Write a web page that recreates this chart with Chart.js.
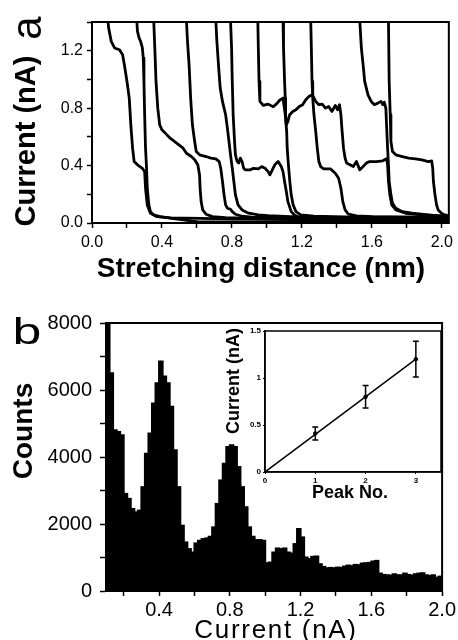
<!DOCTYPE html>
<html><head><meta charset="utf-8">
<script src="https://cdn.jsdelivr.net/npm/chart.js@4.4.1/dist/chart.umd.min.js"></script>
<style>
html,body{margin:0;padding:0;background:#fff;}
body{width:458px;height:640px;position:relative;overflow:hidden;font-family:"Liberation Sans",Arial,sans-serif;color:#000;}
canvas{position:absolute;display:block;}
.t{position:absolute;white-space:nowrap;line-height:1;transform-origin:center center;}
</style></head><body>
<canvas id="chartA" width="458" height="300" style="left:0;top:0;width:458px;height:300px"></canvas>
<canvas id="chartB" width="458" height="340" style="left:0;top:300px;width:458px;height:340px"></canvas>
<canvas id="chartInset" width="238" height="190" style="left:220px;top:320px;width:238px;height:190px"></canvas>
<div class="t" style="left:27px;top:28px;font-size:42px;transform:translate(-50%,-50%) rotate(-90deg)">a</div>
<div class="t" style="left:25px;top:141px;font-size:29px;font-weight:bold;transform:translate(-50%,-50%) rotate(-90deg)">Current (nA)</div>
<div class="t" style="left:261px;top:268px;font-size:28px;font-weight:bold;transform:translate(-50%,-50%)">Stretching distance (nm)</div>
<div class="t" style="left:27px;top:331px;font-size:37px;transform:translate(-50%,-50%) scaleX(1.4)">b</div>
<div class="t" style="left:23px;top:431px;font-size:28px;font-weight:bold;transform:translate(-50%,-50%) rotate(-90deg)">Counts</div>
<div class="t" style="left:276px;top:629px;font-size:26px;letter-spacing:1.7px;transform:translate(-50%,-50%)">Current (nA)</div>
<div class="t" style="left:233px;top:381px;font-size:18px;font-weight:bold;transform:translate(-50%,-50%) rotate(-90deg)">Current (nA)</div>
<div class="t" style="left:350px;top:492px;font-size:18px;font-weight:bold;transform:translate(-50%,-50%)">Peak No.</div>
<script>
// ---------- Panel a: current traces vs stretching distance ----------
const trace1X = [0.088,0.091,0.095,0.110,0.129,0.157,0.175,0.185,0.200,0.213,0.222,0.232,0.241,0.260,0.288,0.301,0.306,0.316,0.334,0.372,0.45,0.7,1.0,1.4,1.8,2.04];
const trace1Y = [1.45,1.41,1.359,1.265,1.219,1.207,1.172,1.103,0.986,0.870,0.684,0.521,0.428,0.405,0.381,0.358,0.242,0.126,0.068,0.044,0.035,0.03,0.025,0.02,0.02,0.018];
const trace2X = [0.254,0.256,0.260,0.269,0.278,0.288,0.293,0.297,0.301,0.306,0.312,0.316,0.325,0.334,0.353,0.390,0.465,0.6,1.0,1.5,2.04];
const trace2Y = [1.45,1.41,1.335,1.289,1.265,1.219,1.149,0.986,0.754,0.521,0.381,0.242,0.126,0.079,0.056,0.044,0.03,0.01,0.006,0.005,0.005];
const trace3X = [0.351,0.353,0.359,0.366,0.376,0.387,0.400,0.419,0.447,0.484,0.521,0.540,0.568,0.587,0.605,0.615,0.618,0.624,0.633,0.652,0.689,0.764,1.0,1.4,2.04];
const trace3Y = [1.45,1.41,1.219,0.986,0.800,0.684,0.649,0.626,0.591,0.556,0.521,0.486,0.463,0.440,0.405,0.335,0.242,0.149,0.091,0.061,0.044,0.037,0.03,0.03,0.025];
const trace4X = [0.538,0.540,0.546,0.555,0.564,0.574,0.587,0.596,0.615,0.652,0.680,0.708,0.727,0.736,0.746,0.755,0.764,0.774,0.792,0.802,0.820,0.858,0.914,1.1,1.5,2.04];
const trace4Y = [1.45,1.41,1.265,1.103,0.870,0.684,0.568,0.498,0.475,0.463,0.452,0.447,0.428,0.381,0.289,0.196,0.126,0.103,0.096,0.079,0.061,0.047,0.040,0.035,0.03,0.03];
const trace5X = [0.706,0.708,0.714,0.723,0.733,0.746,0.755,0.764,0.774,0.783,0.792,0.802,0.811,0.820,0.835,0.858,0.895,0.951,1.007,1.2,1.6,2.04];
const trace5Y = [1.45,1.41,1.265,1.103,0.940,0.847,0.800,0.754,0.661,0.568,0.475,0.381,0.289,0.196,0.126,0.091,0.068,0.056,0.051,0.04,0.035,0.035];
const trace6X = [0.790,0.792,0.798,0.802,0.807,0.815,0.820,0.830,0.839,0.848,0.858,0.867,0.876,0.904,0.923,0.951,0.970,0.989,1.007,1.017,1.026,1.045,1.064,1.082,1.092,1.101,1.111,1.120,1.139,1.157,1.176,1.4,1.8,2.04];
const trace6Y = [1.45,1.41,1.219,0.986,0.754,0.568,0.475,0.428,0.417,0.452,0.428,0.381,0.370,0.370,0.381,0.377,0.393,0.381,0.358,0.335,0.358,0.405,0.428,0.393,0.358,0.289,0.219,0.149,0.079,0.056,0.044,0.03,0.03,0.03];
const trace7X = [0.946,0.948,0.951,0.955,0.960,0.979,1.007,1.036,1.055,1.073,1.092,1.105,1.113,1.116,1.123,1.131,1.139,1.150,1.166,1.194,1.269,1.5,2.04];
const trace7Y = [1.45,1.41,1.219,0.986,0.847,0.819,0.828,0.810,0.830,0.855,0.870,0.754,0.638,0.521,0.405,0.289,0.196,0.126,0.079,0.056,0.047,0.04,0.04];
const trace8X = [1.089,1.092,1.095,1.101,1.105,1.107,1.111,1.120,1.130,1.148,1.166,1.185,1.204,1.222,1.241,1.260,1.279,1.297,1.316,1.335,1.353,1.372,1.391,1.404,1.415,1.423,1.430,1.438,1.447,1.456,1.475,1.494,1.512,1.531,1.550,1.568,1.587,1.625,1.662,1.684,1.690,1.695,1.703,1.714,1.737,1.793,1.886,1.998,2.04];
const trace8Y = [1.45,1.41,1.219,0.986,0.870,0.754,0.684,0.707,0.754,0.777,0.789,0.812,0.824,0.858,0.882,0.893,0.847,0.824,0.828,0.800,0.812,0.777,0.819,0.789,0.824,0.754,0.638,0.521,0.452,0.417,0.405,0.393,0.428,0.370,0.393,0.417,0.428,0.428,0.433,0.447,0.405,0.289,0.196,0.126,0.091,0.068,0.056,0.049,0.045];
const trace9X = [1.248,1.2505,1.254,1.258,1.262,1.269,1.279,1.288,1.297,1.307,1.325,1.363,1.391,1.410,1.423,1.434,1.447,1.466,1.512,1.606,1.8,2.04];
const trace9Y = [1.45,1.41,1.219,0.986,0.870,0.754,0.638,0.521,0.428,0.393,0.377,0.377,0.347,0.312,0.242,0.149,0.091,0.061,0.049,0.044,0.04,0.04];
const trace10X = [1.529,1.531,1.540,1.550,1.559,1.578,1.596,1.615,1.634,1.652,1.662,1.671,1.680,1.684,1.690,1.695,1.699,1.709,1.718,1.737,1.774,1.830,1.923,1.979,2.04];
const trace10Y = [1.45,1.41,1.219,1.103,0.986,0.893,0.847,0.824,0.835,0.847,0.824,0.842,0.800,0.684,0.521,0.405,0.289,0.196,0.138,0.103,0.079,0.068,0.056,0.049,0.045];
const trace11X = [1.693,1.695,1.699,1.705,1.709,1.718,1.737,1.774,1.811,1.849,1.886,1.923,1.942,1.948,1.952,1.961,1.970,1.979,1.998,2.017,2.04];
const trace11Y = [1.45,1.41,0.986,0.754,0.568,0.498,0.475,0.463,0.452,0.447,0.440,0.428,0.433,0.381,0.289,0.196,0.126,0.091,0.068,0.056,0.05];

// ---------- Panel b: histogram of current ----------
const histCurrent = [0.11,0.13,0.15,0.17,0.19,0.21,0.23,0.25,0.27,0.29,0.31,0.33,0.35,0.37,0.39,0.41,0.43,0.45,0.47,0.49,
  0.51,0.53,0.55,0.57,0.59,0.61,0.63,0.65,0.67,0.69,0.71,0.73,0.75,0.77,0.79,0.81,0.83,0.85,0.87,0.89,
  0.91,0.93,0.95,0.97,0.99,1.01,1.03,1.05,1.07,1.09,1.11,1.13,1.15,1.17,1.19,1.21,1.23,1.25,1.27,1.29,
  1.31,1.33,1.35,1.37,1.39,1.41,1.43,1.45,1.47,1.49,1.51,1.53,1.55,1.57,1.59,1.61,1.63,1.65,1.67,1.69,
  1.71,1.73,1.75,1.77,1.79,1.81,1.83,1.85,1.87,1.89,1.91,1.93,1.95,1.97,1.99];
const histCounts = [8000,6500,4800,4750,4650,2900,2750,2450,2350,2400,3100,4100,4700,5600,6200,6850,6400,6200,5500,4200,
  3100,1950,1450,1250,1150,1420,1500,1550,1570,1620,1900,2600,3300,3800,4300,4350,4300,3700,3100,2500,
  1900,1620,1520,1520,1500,830,850,1150,1270,1250,1270,1150,1120,1400,1850,1600,1000,950,1020,1030,
  800,720,680,690,680,700,690,730,760,740,780,770,820,830,840,880,900,520,480,470,
  460,500,470,470,520,480,460,500,520,530,470,450,470,400,430];

// ---------- Inset: peak positions ----------
const peakNo = [1, 2, 3];
const peakCurrent = [0.41, 0.80, 1.20];
const peakError = [0.07, 0.12, 0.19];
const fitNo = [0, 3];
const fitCurrent = [0, 1.2];

// ---------- tick label sets ----------
const tickLabelsA_X = ['0.0','0.4','0.8','1.2','1.6','2.0'];
const tickLabelsA_Y = ['0.0','0.4','0.8','1.2'];
const tickLabelsB_X = ['0.4','0.8','1.2','1.6','2.0'];
const tickLabelsB_Y = ['0','2000','4000','6000','8000'];
const tickLabelsInset_X = ['0','1','2','3'];
const tickLabelsInset_Y = ['0','0.5','1','1.5'];

const FONT = '"Liberation Sans", Arial, sans-serif';
Chart.defaults.font.family = FONT;
Chart.defaults.color = '#000';
Chart.defaults.animation = false;

function labelFrom(list, decimals) {
  return function (v) {
    const s = Number(v).toFixed(decimals);
    return list.includes(s) ? s : '';
  };
}
function labelPlain(list) {
  return function (v) {
    const s = String(Math.round(Number(v) * 100) / 100);
    return list.includes(s) ? s : '';
  };
}

const framePlugin = {
  id: 'frame',
  beforeDraw(chart, args, opts) {
    if (opts.fill) {
      const a = chart.chartArea, ctx = chart.ctx;
      ctx.save(); ctx.fillStyle = opts.fill;
      ctx.fillRect(a.left, a.top, a.right - a.left, a.bottom - a.top);
      ctx.restore();
    }
  },
  afterDraw(chart, args, opts) {
    const a = chart.chartArea, ctx = chart.ctx;
    ctx.save(); ctx.strokeStyle = '#000'; ctx.lineWidth = opts.width || 2;
    ctx.strokeRect(a.left, a.top, a.right - a.left, a.bottom - a.top);
    ctx.restore();
  }
};

const errorBarPlugin = {
  id: 'errorBars',
  afterDatasetsDraw(chart) {
    const xs = chart.scales.x, ys = chart.scales.y, ctx = chart.ctx;
    ctx.save(); ctx.strokeStyle = '#000'; ctx.lineWidth = 1.5;
    peakNo.forEach((p, i) => {
      const px = xs.getPixelForValue(p);
      const t = ys.getPixelForValue(peakCurrent[i] + peakError[i]);
      const b = ys.getPixelForValue(peakCurrent[i] - peakError[i]);
      ctx.beginPath();
      ctx.moveTo(px, t); ctx.lineTo(px, b);
      ctx.moveTo(px - 3, t); ctx.lineTo(px + 3, t);
      ctx.moveTo(px - 3, b); ctx.lineTo(px + 3, b);
      ctx.stroke();
    });
    ctx.restore();
  }
};

const traces = [
  [trace1X, trace1Y], [trace2X, trace2Y], [trace3X, trace3Y], [trace4X, trace4Y],
  [trace5X, trace5Y], [trace6X, trace6Y], [trace7X, trace7Y], [trace8X, trace8Y],
  [trace9X, trace9Y], [trace10X, trace10Y], [trace11X, trace11Y]
];

const gridOuter = { drawOnChartArea: false, drawTicks: true, tickLength: 5, tickWidth: 1.5, tickColor: '#000' };

new Chart(document.getElementById('chartA'), {
  type: 'line',
  data: {
    datasets: traces.map(([xs, ys]) => ({
      data: xs.map((x, i) => ({ x: x, y: ys[i] })),
      borderColor: '#000', borderWidth: 2.8, pointRadius: 0, tension: 0,
      borderJoinStyle: 'round', borderCapStyle: 'round', fill: false
    }))
  },
  options: {
    responsive: false, devicePixelRatio: 1, animation: false, events: [],
    layout: { padding: { left: 0, right: 3, top: 22, bottom: 0 } },
    plugins: { legend: { display: false }, tooltip: { enabled: false }, frame: { width: 2 } },
    scales: {
      x: {
        type: 'linear', min: 0, max: 2.04,
        afterFit(s) { s.height = 77; },
        ticks: { stepSize: 0.2, includeBounds: false, autoSkip: false, maxRotation: 0, padding: 5,
                 font: { size: 16 }, color: '#000', callback: labelFrom(tickLabelsA_X, 1) },
        grid: gridOuter, border: { color: '#000', width: 2 }
      },
      y: {
        type: 'linear', min: 0, max: 1.4,
        afterFit(s) { s.width = 92; },
        ticks: { stepSize: 0.2, autoSkip: false, padding: 4, font: { size: 16 }, color: '#000',
                 callback: labelFrom(tickLabelsA_Y, 1) },
        grid: gridOuter, border: { color: '#000', width: 2 }
      }
    }
  },
  plugins: [framePlugin]
});

new Chart(document.getElementById('chartB'), {
  type: 'bar',
  data: {
    datasets: [{
      data: histCurrent.map((x, i) => ({ x: x, y: histCounts[i] })),
      backgroundColor: '#000', borderColor: '#000', borderWidth: 0, inflateAmount: 1,
      barPercentage: 1, categoryPercentage: 1
    }]
  },
  options: {
    responsive: false, devicePixelRatio: 1, animation: false, events: [],
    layout: { padding: { left: 0, right: 15, top: 23, bottom: 0 } },
    plugins: { legend: { display: false }, tooltip: { enabled: false }, frame: { width: 2 } },
    scales: {
      x: {
        type: 'linear', min: 0.1, max: 2.0, offset: false,
        afterFit(s) { s.height = 49; },
        ticks: { stepSize: 0.2, includeBounds: false, autoSkip: false, maxRotation: 0, padding: 2,
                 font: { size: 20 }, color: '#000', callback: labelFrom(tickLabelsB_X, 1) },
        grid: Object.assign({}, gridOuter, { offset: false }), border: { color: '#000', width: 2 }
      },
      y: {
        type: 'linear', min: 0, max: 8000,
        afterFit(s) { s.width = 106; },
        ticks: { stepSize: 1000, autoSkip: false, padding: 8, font: { size: 20 }, color: '#000',
                 callback: labelFrom(tickLabelsB_Y, 0) },
        grid: Object.assign({}, gridOuter, { tickLength: 6 }), border: { color: '#000', width: 2 }
      }
    }
  },
  plugins: [framePlugin]
});

new Chart(document.getElementById('chartInset'), {
  type: 'scatter',
  data: {
    datasets: [
      { type: 'line', data: fitNo.map((x, i) => ({ x: x, y: fitCurrent[i] })),
        borderColor: '#000', borderWidth: 1.5, pointRadius: 0, tension: 0, fill: false },
      { type: 'scatter', data: peakNo.map((x, i) => ({ x: x, y: peakCurrent[i] })),
        pointRadius: 1.8, backgroundColor: '#000', borderColor: '#000' }
    ]
  },
  options: {
    responsive: false, devicePixelRatio: 1, animation: false, events: [],
    layout: { padding: { left: 0, right: 17, top: 11, bottom: 0 } },
    plugins: { legend: { display: false }, tooltip: { enabled: false }, frame: { width: 1.5, fill: '#fff' } },
    scales: {
      x: {
        type: 'linear', min: 0, max: 3.5,
        afterFit(s) { s.height = 38; },
        ticks: { stepSize: 1, includeBounds: false, autoSkip: false, maxRotation: 0, padding: 2,
                 font: { size: 8, weight: 'bold' }, color: '#000', callback: labelPlain(tickLabelsInset_X) },
        grid: { drawOnChartArea: false, tickLength: 2, tickWidth: 1, tickColor: '#000' },
        border: { color: '#000', width: 1.5 }
      },
      y: {
        type: 'linear', min: 0, max: 1.5,
        afterFit(s) { s.width = 45; },
        ticks: { stepSize: 0.5, autoSkip: false, padding: 2, font: { size: 8, weight: 'bold' }, color: '#000',
                 callback: labelPlain(tickLabelsInset_Y) },
        grid: { drawOnChartArea: false, tickLength: 2, tickWidth: 1, tickColor: '#000' },
        border: { color: '#000', width: 1.5 }
      }
    }
  },
  plugins: [framePlugin, errorBarPlugin]
});
</script>
</body></html>
